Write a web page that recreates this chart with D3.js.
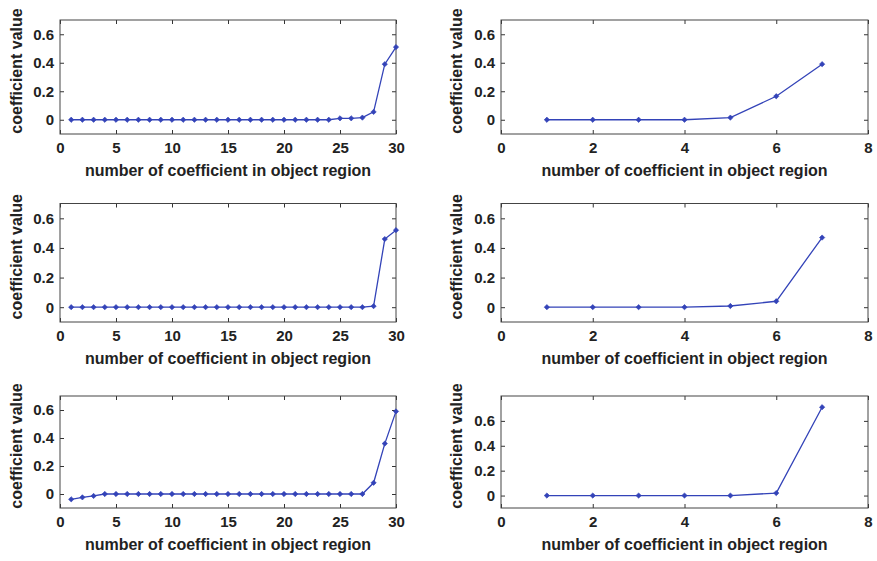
<!DOCTYPE html>
<html>
<head>
<meta charset="utf-8">
<script src="https://cdn.jsdelivr.net/npm/d3@7"></script>
<style>
  html, body { margin: 0; padding: 0; background: #fff; }
  svg { display: block; }
  text { font-family: "Liberation Sans", Arial, sans-serif; font-weight: bold; fill: #222; }
</style>
</head>
<body>
<svg id="chart" width="877" height="561"></svg>
<script>
// ---- data ----
const xLeft = [1,2,3,4,5,6,7,8,9,10,11,12,13,14,15,16,17,18,19,20,21,22,23,24,25,26,27,28,29,30];
const xRight = [1,2,3,4,5,6,7];

const leftRow1 = [0,0,0,0,0,0,0,0,0,0,0,0,0,0,0,0,0,0,0,0,0,0,0,0,0.01,0.01,0.015,0.055,0.39,0.51];
const leftRow2 = [0,0,0,0,0,0,0,0,0,0,0,0,0,0,0,0,0,0,0,0,0,0,0,0,0,0,0,0.007,0.46,0.52];
const leftRow3 = [-0.038,-0.024,-0.014,0,0,0,0,0,0,0,0,0,0,0,0,0,0,0,0,0,0,0,0,0,0,0,0,0.08,0.36,0.59];

const rightRow1 = [0,0,0,0,0.015,0.165,0.39];
const rightRow2 = [0,0,0,0,0.008,0.04,0.47];
const rightRow3 = [0,0,0,0,0,0.02,0.71];

const xTicksLeft = [0,5,10,15,20,25,30];
const xTicksRight = [0,2,4,6,8];
const yTicks = [0,0.2,0.4,0.6];
const yTickLabels = ["0","0.2","0.4","0.6"];
const xDomainLeft = [0,30];
const xDomainRight = [0,8];
const yDomainStd = [-0.1,0.7];
const yDomainTall = [-0.1,0.8];

const xLabelText = "number of coefficient in object region";
const yLabelText = "coefficient value";

// ---- layout ----
const cols = [{l:60, r:396, yl:22}, {l:501, r:868, yl:462}];
const rows = [{t:20, b:134}, {t:203.5, b:322}, {t:396, b:508}];

const panels = [
  {row:0, col:0, x:xLeft,  y:leftRow1,  xd:xDomainLeft,  yd:yDomainStd,  xt:xTicksLeft},
  {row:0, col:1, x:xRight, y:rightRow1, xd:xDomainRight, yd:yDomainStd,  xt:xTicksRight},
  {row:1, col:0, x:xLeft,  y:leftRow2,  xd:xDomainLeft,  yd:yDomainStd,  xt:xTicksLeft},
  {row:1, col:1, x:xRight, y:rightRow2, xd:xDomainRight, yd:yDomainStd,  xt:xTicksRight},
  {row:2, col:0, x:xLeft,  y:leftRow3,  xd:xDomainLeft,  yd:yDomainStd,  xt:xTicksLeft},
  {row:2, col:1, x:xRight, y:rightRow3, xd:xDomainRight, yd:yDomainTall, xt:xTicksRight}
];

const lineColor = "#3343b8";
const svg = d3.select("#chart");

panels.forEach(p => {
  const c = cols[p.col], r = rows[p.row];
  const xs = d3.scaleLinear().domain(p.xd).range([c.l, c.r]);
  const ys = d3.scaleLinear().domain(p.yd).range([r.b, r.t]);
  const g = svg.append("g");

  // axes (ticks inward, MATLAB style)
  const ax = g.append("g").attr("transform", `translate(0,${r.b})`)
    .call(d3.axisBottom(xs).tickValues(p.xt).tickFormat(d3.format("d")).tickSizeInner(-4).tickSizeOuter(0).tickPadding(8));
  const axT = g.append("g").attr("transform", `translate(0,${r.t})`)
    .call(d3.axisTop(xs).tickValues(p.xt).tickFormat("").tickSizeInner(-4).tickSizeOuter(0));
  const ay = g.append("g").attr("transform", `translate(${c.l},0)`)
    .call(d3.axisLeft(ys).tickValues(yTicks).tickFormat((d,i) => yTickLabels[i]).tickSizeInner(-4).tickSizeOuter(0).tickPadding(6));
  const ayR = g.append("g").attr("transform", `translate(${c.r},0)`)
    .call(d3.axisRight(ys).tickValues(yTicks).tickFormat("").tickSizeInner(-4).tickSizeOuter(0));
  [ax, axT, ay, ayR].forEach(a => {
    a.select(".domain").remove();
    a.selectAll("line").attr("stroke", "#333");
    a.selectAll("text").style("font-size", "15px").style("font-family", "'Liberation Sans', Arial, sans-serif").style("font-weight", "bold").attr("fill", "#222");
  });

  // box
  g.append("rect").attr("x", c.l).attr("y", r.t).attr("width", c.r - c.l).attr("height", r.b - r.t)
    .attr("fill", "none").attr("stroke", "#444").attr("stroke-width", 1);

  // line
  const pts = p.x.map((xv, i) => [xv, p.y[i]]);
  g.append("path").datum(pts)
    .attr("fill", "none").attr("stroke", lineColor).attr("stroke-width", 1.3)
    .attr("d", d3.line().x(d => xs(d[0])).y(d => ys(d[1])));
  const sym = d3.symbol().type(d3.symbolSquare).size(14);
  g.selectAll("path.mk").data(pts).enter().append("path").attr("class", "mk")
    .attr("d", sym)
    .attr("transform", d => `translate(${xs(d[0])},${ys(d[1])}) rotate(45)`)
    .attr("fill", lineColor).attr("stroke", lineColor).attr("stroke-width", 0.6);

  // x label
  g.append("text").attr("x", (c.l + c.r) / 2).attr("y", r.b + 42)
    .attr("text-anchor", "middle").style("font-size", "16px").text(xLabelText);
  // y label
  g.append("text")
    .attr("transform", `translate(${c.yl},${(r.t + r.b) / 2 - 6}) rotate(-90)`)
    .attr("text-anchor", "middle").style("font-size", "16px").text(yLabelText);
});
</script>
</body>
</html>
